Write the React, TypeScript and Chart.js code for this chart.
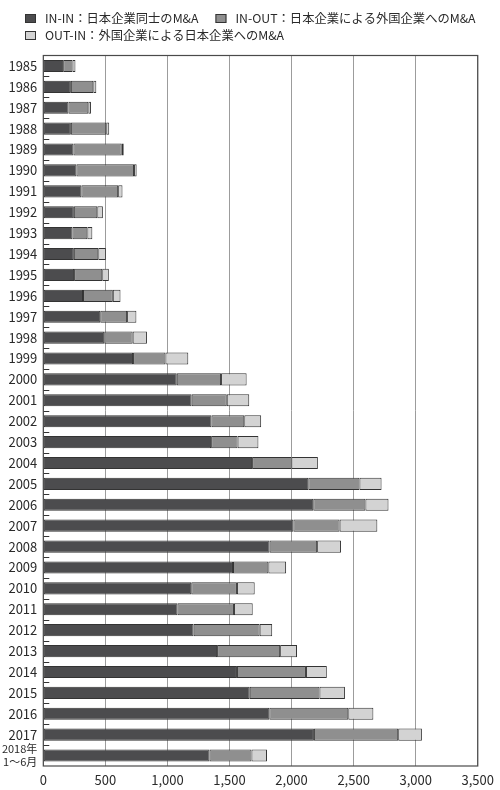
import React, { useEffect, useRef } from "react";
import { Chart, registerables } from "chart.js";

Chart.register(...registerables);

const categories: (string | string[])[] = [
  "1985", "1986", "1987", "1988", "1989", "1990", "1991", "1992", "1993", "1994",
  "1995", "1996", "1997", "1998", "1999", "2000", "2001", "2002", "2003", "2004",
  "2005", "2006", "2007", "2008", "2009", "2010", "2011", "2012", "2013", "2014",
  "2015", "2016", "2017", ["2018年", "1～6月"],
];

const inIn = [
  160, 222, 203, 222, 243, 267, 307, 246, 235, 246,
  248, 320, 459, 491, 723, 1075, 1195, 1355, 1352, 1682,
  2135, 2175, 2015, 1823, 1528, 1192, 1081, 1211, 1400, 1560,
  1663, 1821, 2180, 1339,
];

const inOut = [
  75, 181, 160, 285, 389, 464, 296, 189, 120, 197,
  227, 240, 216, 229, 261, 357, 283, 264, 213, 317,
  412, 420, 372, 383, 285, 368, 455, 532, 508, 556,
  562, 636, 679, 338,
];

const outIn = [
  24, 24, 21, 24, 16, 21, 35, 45, 40, 61,
  53, 62, 75, 115, 184, 206, 181, 136, 168, 213,
  178, 186, 304, 192, 143, 143, 151, 101, 136, 168,
  205, 202, 191, 125,
];

const seriesLabels = [
  "IN-IN：日本企業同士のM&A",
  "IN-OUT：日本企業による外国企業へのM&A",
  "OUT-IN：外国企業による日本企業へのM&A",
];

const xTicks = [0, 500, 1000, 1500, 2000, 2500, 3000, 3500];

const FONT = "'Noto Sans CJK JP', 'Noto Sans', sans-serif";
const colors = ["#4c4c4e", "#8f8f8f", "#d3d3d3"];
const edge = "#333333";

const framePlugin = {
  id: "framePlugin",
  afterDatasetsDraw(chart: any) {
    const { ctx, chartArea } = chart;
    const y = chart.scales.y;
    ctx.save();
    ctx.strokeStyle = edge;
    ctx.lineWidth = 1;
    const n = chart.data.labels.length;
    for (let i = 0; i < n - 1; i++) {
      const py = Math.round((y.getPixelForValue(i) + y.getPixelForValue(i + 1)) / 2) + 0.5;
      ctx.beginPath();
      ctx.moveTo(chartArea.left, py);
      ctx.lineTo(chartArea.left + 6, py);
      ctx.stroke();
    }
    ctx.strokeStyle = "#4a4a4a";
    ctx.lineWidth = 1.2;
    ctx.strokeRect(chartArea.left, chartArea.top, chartArea.right - chartArea.left, chartArea.bottom - chartArea.top);
    ctx.restore();
  },
};

const legendPlugin = {
  id: "customLegend",
  afterDraw(chart: any) {
    const { ctx } = chart;
    const ds = chart.data.datasets;
    ctx.save();
    ctx.font = `12.3px ${FONT}`;
    ctx.textBaseline = "middle";
    ctx.fillStyle = "#2a2a2a";
    const boxW = 11;
    const boxH = 9;
    const rows = [18.5, 35.5];
    const items = [
      { x: 25, y: rows[0], i: 0 },
      { x: 0, y: rows[0], i: 1 },
      { x: 25, y: rows[1], i: 2 },
    ];
    items[1].x = 45 + ctx.measureText(ds[0].label).width + 17;
    items.forEach((it) => {
      ctx.fillStyle = ds[it.i].backgroundColor;
      ctx.fillRect(it.x, it.y - boxH / 2, boxW, boxH);
      ctx.strokeStyle = edge;
      ctx.lineWidth = 1;
      ctx.strokeRect(it.x + 0.5, it.y - boxH / 2 + 0.5, boxW - 1, boxH - 1);
      ctx.fillStyle = "#2a2a2a";
      ctx.fillText(ds[it.i].label, it.x + 20, it.y);
    });
    ctx.restore();
  },
};

export default function App() {
  const ref = useRef<HTMLCanvasElement | null>(null);

  useEffect(() => {
    if (!ref.current) return;
    const mk = (label: string, data: number[], color: string) => ({
      label,
      data,
      backgroundColor: color,
      borderColor: edge,
      borderWidth: 1,
      borderSkipped: false,
      barPercentage: 0.58,
      categoryPercentage: 1,
    });
    const chart = new Chart(ref.current, {
      type: "bar",
      data: {
        labels: categories,
        datasets: [
          mk(seriesLabels[0], inIn, colors[0]),
          mk(seriesLabels[1], inOut, colors[1]),
          mk(seriesLabels[2], outIn, colors[2]),
        ],
      },
      options: {
        indexAxis: "y",
        responsive: false,
        animation: false,
        layout: { padding: { top: 55.5, right: 19.2, left: 0, bottom: 0 } },
        plugins: {
          legend: { display: false },
          tooltip: { enabled: false },
          title: { display: false },
        },
        scales: {
          x: {
            stacked: true,
            min: 0,
            max: 3500,
            afterBuildTicks: (scale: any) => {
              scale.ticks = xTicks.map((v) => ({ value: v }));
            },
            afterFit: (scale: any) => {
              scale.height = 24;
            },
            grid: { color: "#9c9c9c", lineWidth: 1, drawTicks: false },
            border: { display: false },
            ticks: {
              padding: 6,
              color: "#2a2a2a",
              font: { family: FONT, size: 13 },
              callback: (v: any) => Number(v).toLocaleString("en-US"),
            },
          },
          y: {
            stacked: true,
            afterFit: (scale: any) => {
              scale.width = 43.3;
            },
            grid: { display: false, drawTicks: false },
            border: { display: false },
            ticks: {
              padding: 6,
              color: "#2a2a2a",
              autoSkip: false,
              font: (c: any) =>
                c.index === categories.length - 1
                  ? { family: FONT, size: 11, lineHeight: 1.2 }
                  : { family: FONT, size: 13 },
            },
          },
        },
      },
      plugins: [framePlugin, legendPlugin],
    } as any);
    return () => chart.destroy();
  }, []);

  return (
    <div style={{ position: "absolute", left: 0, top: 0, width: 500, height: 790, background: "#fff" }}>
      <canvas ref={ref} width={500} height={790} style={{ display: "block" }} />
    </div>
  );
}
